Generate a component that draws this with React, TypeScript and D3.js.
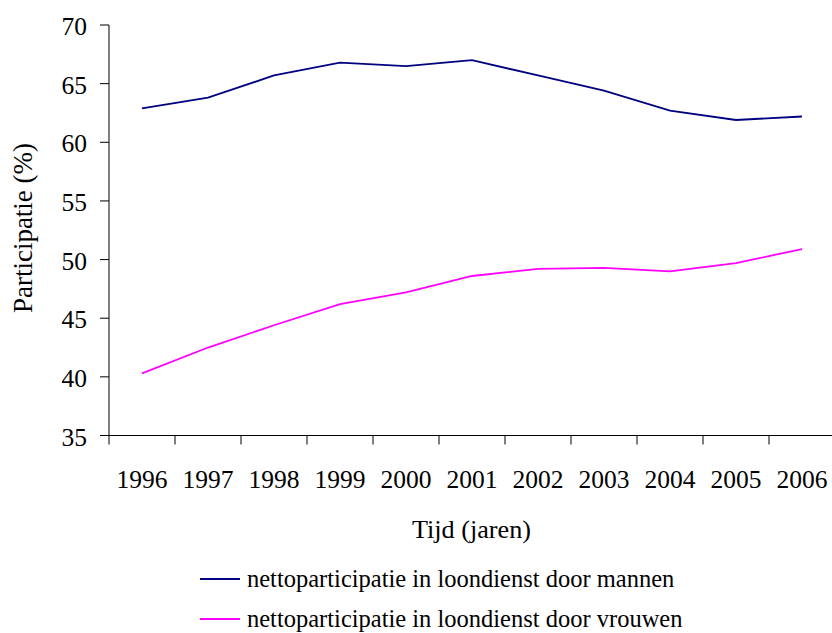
import React from "react";
import * as d3 from "d3";

const years = ["1996","1997","1998","1999","2000","2001","2002","2003","2004","2005","2006"];
const mannen = [62.9, 63.8, 65.7, 66.8, 66.5, 67.0, 65.7, 64.4, 62.7, 61.9, 62.2];
const vrouwen = [40.3, 42.5, 44.4, 46.2, 47.2, 48.6, 49.2, 49.3, 49.0, 49.7, 50.9];
const yTicks = [35, 40, 45, 50, 55, 60, 65, 70];
const seriesNames = [
  "nettoparticipatie in loondienst door mannen",
  "nettoparticipatie in loondienst door vrouwen",
];
const seriesColors = ["#000080", "#FF00FF"];

export default function App() {
  const W = 832, H = 633;
  const left = 109, right = 835, top = 25, bottom = 435.5;
  const x = d3.scaleBand().domain(years).range([left, right]);
  const y = d3.scaleLinear().domain([35, 70]).range([bottom, top]);
  const line = d3.line<number>()
    .x((_, i) => (x(years[i]) as number) + x.bandwidth() / 2)
    .y((d) => y(d));
  const font = "Liberation Serif";
  const series = [mannen, vrouwen];
  const boundaries = years.map((yr) => x(yr) as number);
  return (
    <svg width={W} height={H} style={{ position: "absolute", left: 0, top: 0, fontFamily: font }}>
      <rect width={W} height={H} fill="#fff" />
      {/* y axis */}
      <line x1={left} x2={left} y1={top} y2={bottom} stroke="#000" strokeWidth={1} />
      {yTicks.map((t) => (
        <g key={t}>
          <line x1={left - 9} x2={left} y1={y(t)} y2={y(t)} stroke="#000" strokeWidth={1} />
          <text x={87} y={y(t)} dy="0.4em" textAnchor="end" fontSize={25.5} fill="#000" style={{ fontFamily: font }}>{t}</text>
        </g>
      ))}
      {/* x axis */}
      <line x1={left} x2={right} y1={bottom} y2={bottom} stroke="#000" strokeWidth={1} />
      {boundaries.map((b, i) => (
        <line key={i} x1={b} x2={b} y1={bottom} y2={bottom + 9} stroke="#000" strokeWidth={1} />
      ))}
      {years.map((yr) => (
        <text key={yr} x={(x(yr) as number) + x.bandwidth() / 2} y={488} textAnchor="middle" fontSize={25.5} fill="#000" style={{ fontFamily: font }}>{yr}</text>
      ))}
      {/* series */}
      {series.map((s, i) => (
        <path key={i} d={line(s) || ""} fill="none" stroke={seriesColors[i]} strokeWidth={1.8} />
      ))}
      {/* axis titles */}
      <text x={471.5} y={538} textAnchor="middle" fontSize={26.2} fill="#000" style={{ fontFamily: font }}>Tijd (jaren)</text>
      <text transform="translate(32,228) rotate(-90)" textAnchor="middle" fontSize={27} fill="#000" style={{ fontFamily: font }}>Participatie (%)</text>
      {/* legend */}
      {seriesNames.map((n, i) => (
        <g key={n}>
          <line x1={200} x2={240} y1={579 + i * 40} y2={579 + i * 40} stroke={seriesColors[i]} strokeWidth={1.8} />
          <text x={247} y={587 + i * 40} fontSize={24.5} fill="#000" style={{ fontFamily: font }}>{n}</text>
        </g>
      ))}
    </svg>
  );
}
